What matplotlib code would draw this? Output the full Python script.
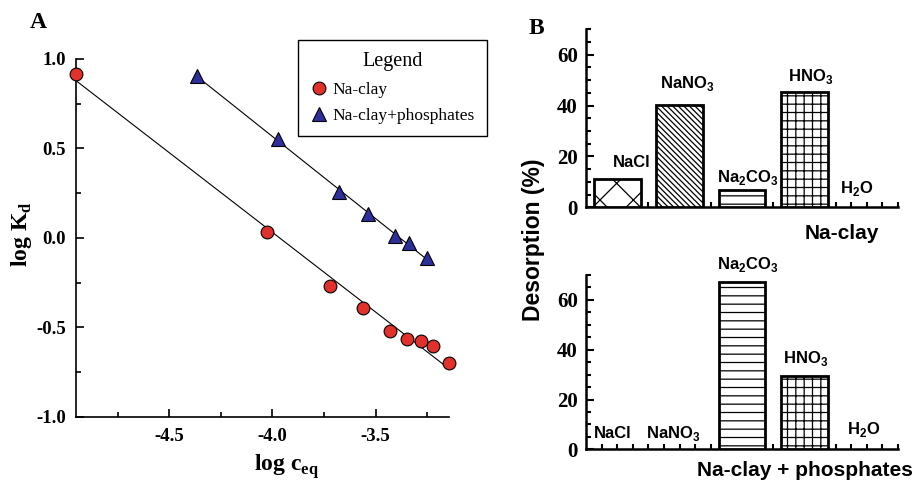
import numpy as np
import matplotlib
matplotlib.use("Agg")
import matplotlib.pyplot as plt
from matplotlib.ticker import MultipleLocator, NullFormatter

plt.rcParams['axes.unicode_minus'] = False
plt.rcParams['mathtext.fontset'] = 'custom'
plt.rcParams['mathtext.rm'] = 'Liberation Serif'
plt.rcParams['mathtext.bf'] = 'Liberation Serif:bold'
plt.rcParams['mathtext.sf'] = 'Liberation Sans:bold'
plt.rcParams['hatch.linewidth'] = 0.9

# panel A : log Kd vs log c_eq
naclay_x = [-4.952, -4.026, -3.719, -3.560, -3.431, -3.347, -3.280, -3.222, -3.145]
naclay_y = [0.916, 0.032, -0.268, -0.389, -0.520, -0.566, -0.575, -0.603, -0.700]
phos_x = [-4.367, -3.971, -3.677, -3.536, -3.408, -3.337, -3.251]
phos_y = [0.905, 0.551, 0.257, 0.134, 0.011, -0.030, -0.110]

# panel B : desorption (%)
salts = ['NaCl', r'NaNO$_\mathsf{3}$', r'Na$_\mathsf{2}$CO$_\mathsf{3}$', r'HNO$_\mathsf{3}$', r'H$_\mathsf{2}$O']
naclay_des = [11.0, 40.2, 6.8, 45.5, 0.0]
phos_des = [0.0, 0.0, 67.2, 29.3, 0.0]
hatches = ['x', '\\\\\\\\\\\\', '--', '++', '']

# label nudges (pixels) for each panel
top_offsets = [(15, 17), (8, 22), (6, 13), (6, 15), (-10, 19)]
bot_offsets = [(-4, 16), (-6, 16), (6, 18), (1, 18), (-3, 20)]

serif = 'Liberation Serif'
sans = 'Liberation Sans'

fig = plt.figure(figsize=(9.13, 4.82), dpi=100)

# ---------------- A
ax = fig.add_axes([0.0832, 0.1349, 0.4085, 0.7427])
for xs, ys in [(naclay_x, naclay_y), (phos_x, phos_y)]:
    k, b = np.polyfit(xs, ys, 1)
    xx = np.array([xs[0], xs[-1]])
    ax.plot(xx, k * xx + b, color='k', lw=0.8, zorder=2)
ax.plot(naclay_x, naclay_y, 'o', ms=9.2, mfc='#e2302a', mec='k', mew=0.8,
        ls='none', clip_on=False, zorder=3, label='Na-clay')
ax.plot(phos_x, phos_y, '^', ms=9.5, mfc='#2e2f9c', mec='k', mew=0.8,
        ls='none', clip_on=False, zorder=3, label='Na-clay+phosphates')
ax.set_xlim(-4.952, -3.145)
ax.set_ylim(-1.0, 1.0)
ax.xaxis.set_minor_locator(MultipleLocator(0.25))
ax.yaxis.set_minor_locator(MultipleLocator(0.25))
ax.set_xticks([-4.5, -4.0, -3.5])
ax.set_xticklabels(['-4.5', '-4.0', '-3.5'])
ax.set_yticks([-1.0, -0.5, 0.0, 0.5, 1.0])
ax.set_yticklabels(['-1.0', '-0.5', '0.0', '0.5', '1.0'])
for s in ['top', 'right']:
    ax.spines[s].set_visible(False)
for s in ['left', 'bottom']:
    ax.spines[s].set_linewidth(1.2)
ax.tick_params(which='both', direction='in', width=1.2)
ax.tick_params(which='major', length=6)
ax.tick_params(which='minor', length=3.5)
ax.tick_params(axis='y', pad=7)
ax.tick_params(axis='x', pad=8)
for lab in ax.get_xticklabels() + ax.get_yticklabels():
    lab.set_fontfamily(serif)
    lab.set_fontweight('bold')
    lab.set_fontsize(13.5)
ax.text(0.565, -0.138, r'log c$_\mathbf{eq}$', transform=ax.transAxes, ha='center', va='center',
        fontsize=17, fontweight='bold', fontfamily=serif)
ax.text(-0.145, 0.511, r'log K$_\mathbf{d}$', transform=ax.transAxes, ha='center', va='center',
        rotation=90, fontsize=17, fontweight='bold', fontfamily=serif)
leg = ax.legend(loc='upper left', bbox_to_anchor=(298 / 913, 1 - 40 / 482), bbox_transform=fig.transFigure,
                borderaxespad=0, title='Legend', fancybox=False, framealpha=1, edgecolor='k',
                handletextpad=0.3, handlelength=1.0, borderpad=0.7, labelspacing=0.6,
                prop={'family': serif, 'size': 12.5})
leg.get_title().set_fontfamily(serif)
leg.get_title().set_fontsize(14.5)
leg.get_frame().set_linewidth(1.0)
fig.text(38 / 913, 1 - 22 / 482, 'A', ha='center', va='center', fontsize=17,
         fontweight='bold', fontfamily=serif)

# ---------------- B
pos = np.arange(len(salts)) * 4 + 2
axes_b = [fig.add_axes([0.6418, 0.5699, 0.3417, 0.3693]),
          fig.add_axes([0.6418, 0.0678, 0.3417, 0.3616])]
for axb, vals, offs in zip(axes_b, [naclay_des, phos_des], [top_offsets, bot_offsets]):
    for p, v, h, lab, off in zip(pos, vals, hatches, salts, offs):
        if v > 0:
            axb.bar(p, v, width=3, color='white', edgecolor='k', linewidth=2, hatch=h, zorder=3)
        axb.annotate(lab, (p, v), xytext=off, textcoords='offset pixels', ha='center', va='center',
                     fontsize=12, fontweight='bold', fontfamily=sans)
    axb.set_xlim(0, 20)
    axb.set_ylim(0, 70)
    axb.set_xticks(np.arange(1, 21))
    axb.xaxis.set_major_formatter(NullFormatter())
    axb.yaxis.set_major_locator(MultipleLocator(20))
    axb.yaxis.set_minor_locator(MultipleLocator(5))
    for s in ['top', 'right']:
        axb.spines[s].set_visible(False)
    for s in ['left', 'bottom']:
        axb.spines[s].set_linewidth(1.8)
    axb.tick_params(which='both', direction='in', width=1.5)
    axb.tick_params(axis='y', which='major', length=6, pad=6)
    axb.tick_params(axis='y', which='minor', length=3.5)
    axb.tick_params(axis='x', length=3.5)
    for t in axb.get_yticklabels():
        t.set_fontfamily(serif)
        t.set_fontweight('bold')
        t.set_fontsize(15)

fig.text(841.7 / 913, 1 - 233.3 / 482, 'Na-clay', ha='center', va='center', fontsize=15,
         fontweight='bold', fontfamily=sans)
fig.text(805 / 913, 1 - 470 / 482, 'Na-clay + phosphates', ha='center', va='center', fontsize=15,
         fontweight='bold', fontfamily=sans)
fig.text(533 / 913, 1 - 240 / 482, 'Desorption (%)', ha='center', va='center', rotation=90,
         fontsize=16.5, fontweight='bold', fontfamily=sans)
fig.text(536 / 913, 1 - 29 / 482, 'B', ha='center', va='center', fontsize=17,
         fontweight='bold', fontfamily=serif)

fig.savefig('out.png', dpi=100)
